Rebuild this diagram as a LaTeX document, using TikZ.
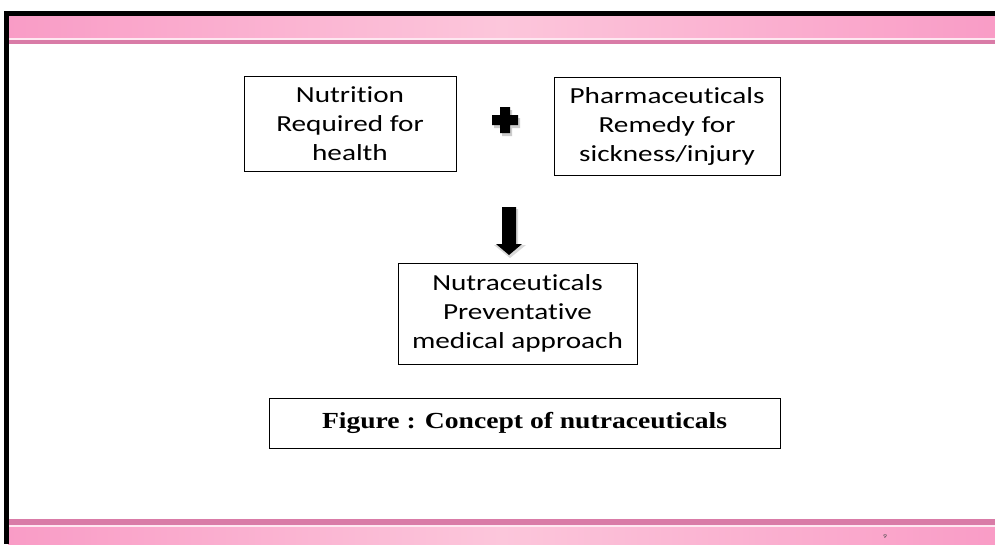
\documentclass[tikz,border=0pt]{standalone}
\usepackage{fontspec}
\setmainfont[FakeStretch=1.27,RawFeature=-liga]{Carlito}
\newfontfamily\figfont[FakeStretch=1.2]{Liberation Serif}
\definecolor{pinkedge}{HTML}{F99CC6}
\definecolor{pinkmid}{HTML}{FCC6DB}
\definecolor{pinkline}{HTML}{D97BA7}
\tikzset{
  box/.style={draw=black, line width=1pt, align=center, font=\fontsize{23}{29}\selectfont, inner sep=0pt},
}
\begin{document}
\begin{tikzpicture}[x=1pt,y=-1pt]
\useasboundingbox (0,0) rectangle (995,544);
\fill[white] (0,0) rectangle (995,544);
% top band
\shade[left color=pinkedge, right color=pinkedge, middle color=pinkmid] (8,16) rectangle (995,38);
\fill[white!60!pinkmid] (8,38) rectangle (995,40);
\fill[pinkline] (8,40) rectangle (995,44);
% bottom band
\fill[pinkline] (8,519) rectangle (995,525);
\fill[white!60!pinkmid] (8,525) rectangle (995,527);
\shade[left color=pinkedge, right color=pinkedge, middle color=pinkmid] (8,527) rectangle (995,544);
% black frame
\fill[black] (4,11) rectangle (995,16);
\fill[black] (4,11) rectangle (9,544);
% boxes
\node[box, minimum width=212, minimum height=95] (nut) at (350,123.5) {Nutrition\\Required for\\health};
\node[box, minimum width=226, minimum height=98] (pha) at (667,126) {Pharmaceuticals\\Remedy for\\sickness/injury};
\node[box, minimum width=239, minimum height=101] (nc) at (517.5,313.5) {Nutraceuticals\\Preventative\\medical approach};
\node[draw=black, line width=1pt, minimum width=511, minimum height=50, inner sep=0pt, font=\figfont\bfseries\fontsize{23}{26}\selectfont] (fig) at (524.5,423) {Figure : Concept of nutraceuticals};
% plus sign
\coordinate (plus) at (505,120);
\fill[gray!40] ([shift={(2,3)}]plus) ++(-5,-13) -- ++(10,0) -- ++(0,8) -- ++(8,0) -- ++(0,10) -- ++(-8,0) -- ++(0,8) -- ++(-10,0) -- ++(0,-8) -- ++(-8,0) -- ++(0,-10) -- ++(8,0) -- cycle;
\fill[black] (plus) ++(-5,-13) -- ++(10,0) -- ++(0,8) -- ++(8,0) -- ++(0,10) -- ++(-8,0) -- ++(0,8) -- ++(-10,0) -- ++(0,-8) -- ++(-8,0) -- ++(0,-10) -- ++(8,0) -- cycle;
% down arrow
\coordinate (arr) at (509,207);
\fill[gray!30] ([shift={(1,2)}]arr) ++(-8,0) -- ++(16,0) -- ++(0,36) -- ++(8,0) -- ++(-16,13) -- ++(-16,-13) -- ++(8,0) -- cycle;
\fill[black] (arr) ++(-7,0) -- ++(14,0) -- ++(0,37) -- ++(6,0) -- ++(-13,11) -- ++(-13,-11) -- ++(6,0) -- cycle;
% page number
\node[font=\fontsize{6}{7}\selectfont, text=black!70, inner sep=0pt] (pg) at (885,537) {9};
\end{tikzpicture}
\end{document}
